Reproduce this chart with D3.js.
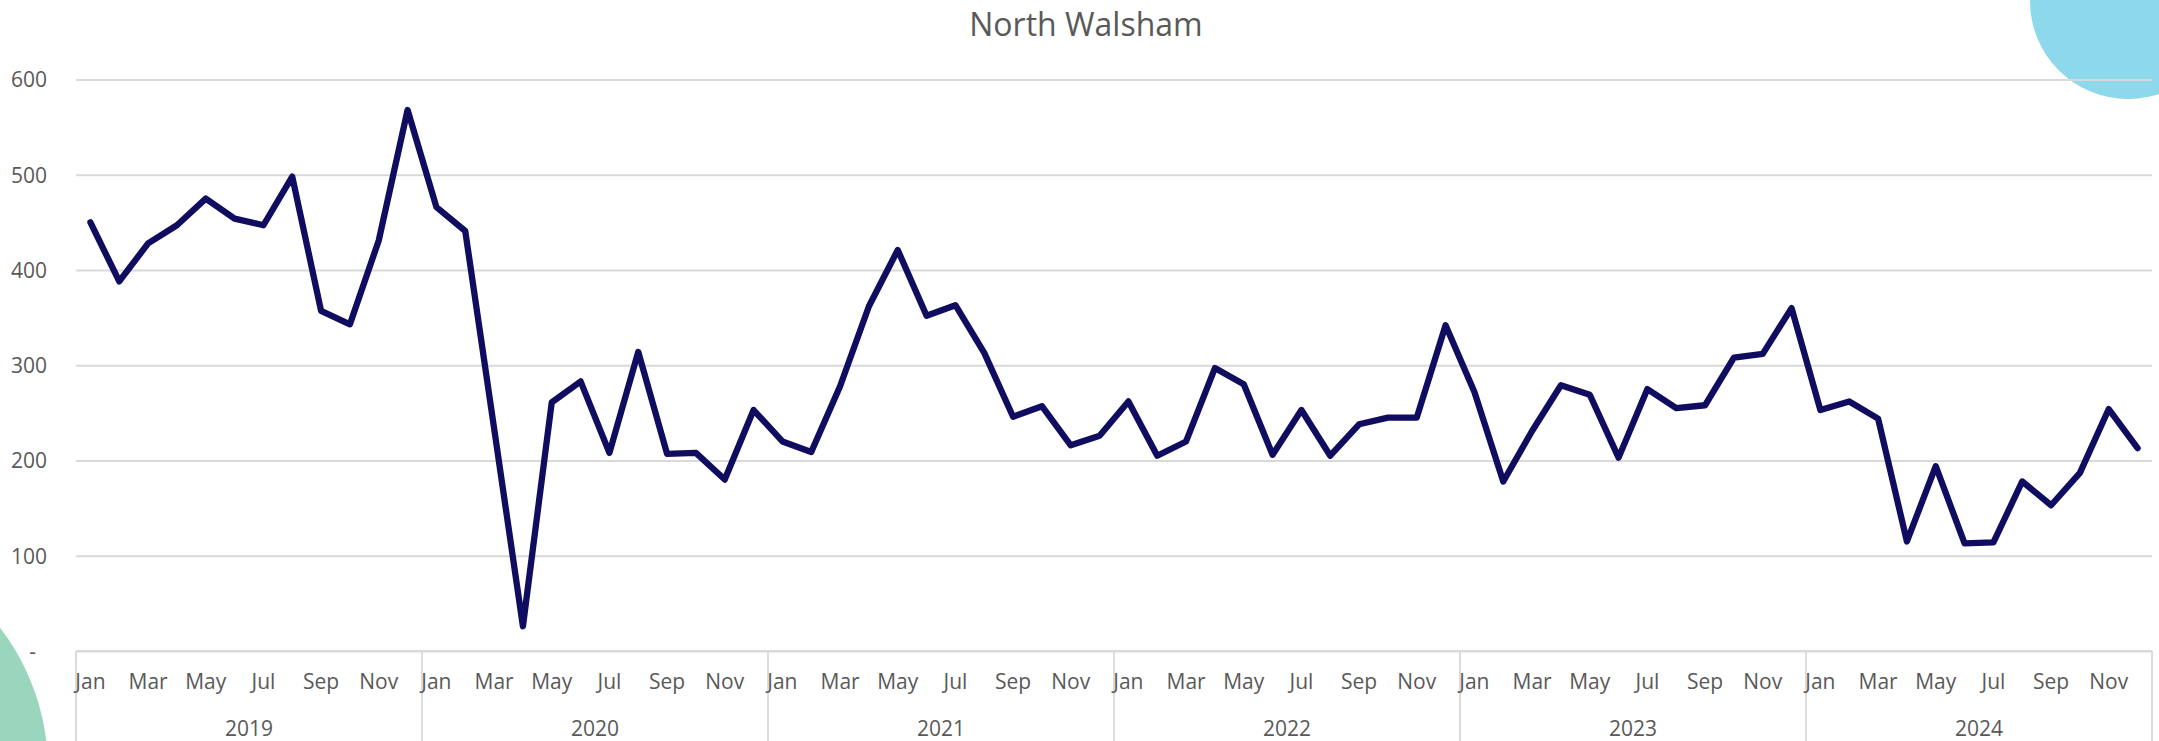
<!DOCTYPE html>
<html>
<head>
<meta charset="utf-8">
<script src="https://cdn.jsdelivr.net/npm/d3@7"></script>
<style>
  body { margin: 0; background: #fff; }
  text { font-family: "Open Sans", sans-serif; fill: #595959; }
</style>
</head>
<body>
<div id="plot_area"></div>
<script>
// data: monthly values Jan 2019 - Dec 2024
var years = ["2019", "2020", "2021", "2022", "2023", "2024"]
var months = ["Jan","Feb","Mar","Apr","May","Jun","Jul","Aug","Sep","Oct","Nov","Dec"]
var values2019 = [450, 388, 428, 447, 475, 454, 447, 498, 357, 343, 431, 568]
var values2020 = [466, 441, 234, 26, 261, 283, 208, 314, 207, 208, 180, 253]
var values2021 = [220, 209, 278, 362, 421, 352, 363, 313, 246, 257, 216, 226]
var values2022 = [262, 205, 220, 297, 280, 206, 253, 205, 238, 245, 245, 342]
var values2023 = [272, 178, 231, 279, 269, 203, 275, 255, 258, 308, 312, 360]
var values2024 = [253, 262, 244, 115, 194, 113, 114, 178, 153, 187, 254, 213]
var yTicks = [0, 100, 200, 300, 400, 500, 600]

var values = [].concat(values2019, values2020, values2021, values2022, values2023, values2024)
var data = values.map(function (v, i) {
  return { i: i, year: years[Math.floor(i / 12)], month: months[i % 12], value: v }
})

var W = 2159, H = 741
var margin = { top: 79.5, left: 76, right: 7, bottom: 90 }
var width = W - margin.left - margin.right,
    height = H - margin.top - margin.bottom

var svg = d3.select("#plot_area")
  .append("svg")
    .attr("width", W)
    .attr("height", H)

// decorative circles
svg.append("circle")
  .attr("cx", 2128).attr("cy", 1).attr("r", 98)
  .style("fill", "#8DD8EA")
svg.append("circle")
  .attr("cx", -184).attr("cy", 769).attr("r", 232)
  .style("fill", "#9AD6BD")

// title
svg.append("text")
  .attr("x", 1086).attr("y", 35.5)
  .attr("text-anchor", "middle")
  .style("font-size", "32px")
  .text("North Walsham")

var g = svg.append("g")
  .attr("transform", "translate(" + margin.left + "," + margin.top + ")")

var x = d3.scaleBand()
  .domain(d3.range(values.length))
  .range([0, width])
var y = d3.scaleLinear()
  .domain([0, 600])
  .range([height, 0])

// gridlines + y labels
var yAxis = g.append("g")
  .call(d3.axisLeft(y).tickValues(yTicks).tickSize(-width)
    .tickFormat(function (d) { return d === 0 ? "-" : d }))
yAxis.select(".domain").remove()
yAxis.selectAll(".tick line")
  .attr("stroke", "#D9D9D9").attr("stroke-width", 1.8)
yAxis.selectAll(".tick text")
  .attr("x", -29).attr("dy", "0.35em")
  .style("font-size", "21px")
yAxis.selectAll(".tick")
  .filter(function (d) { return d === 0 })
  .select("text").attr("x", -40)

// category axis box lines
var yearW = width / years.length
g.append("line")
  .attr("x1", 0).attr("x2", width)
  .attr("y1", height).attr("y2", height)
  .attr("stroke", "#D9D9D9").attr("stroke-width", 1.8)
g.selectAll(".ysep")
  .data(d3.range(years.length + 1))
  .enter().append("line")
    .attr("class", "ysep")
    .attr("x1", function (d) { return d * yearW })
    .attr("x2", function (d) { return d * yearW })
    .attr("y1", height).attr("y2", H)
    .attr("stroke", "#D9D9D9").attr("stroke-width", 1.8)

// month labels (every other month)
g.selectAll(".mlab")
  .data(data.filter(function (d) { return d.i % 2 === 0 }))
  .enter().append("text")
    .attr("class", "mlab")
    .attr("x", function (d) { return x(d.i) + x.bandwidth() / 2 })
    .attr("y", height + 38)
    .attr("text-anchor", "middle")
    .style("font-size", "21px")
    .text(function (d) { return d.month })

// year labels
g.selectAll(".ylab")
  .data(years)
  .enter().append("text")
    .attr("class", "ylab")
    .attr("x", function (d, i) { return (i + 0.5) * yearW })
    .attr("y", height + 85)
    .attr("text-anchor", "middle")
    .style("font-size", "21px")
    .text(function (d) { return d })

// the line
var line = d3.line()
  .x(function (d) { return x(d.i) + x.bandwidth() / 2 })
  .y(function (d) { return y(d.value) })

g.append("path")
  .datum(data)
  .attr("d", line)
  .attr("fill", "none")
  .attr("stroke", "#100C5F")
  .attr("stroke-width", 6.3)
  .attr("stroke-linejoin", "round")
  .attr("stroke-linecap", "round")
</script>
</body>
</html>
